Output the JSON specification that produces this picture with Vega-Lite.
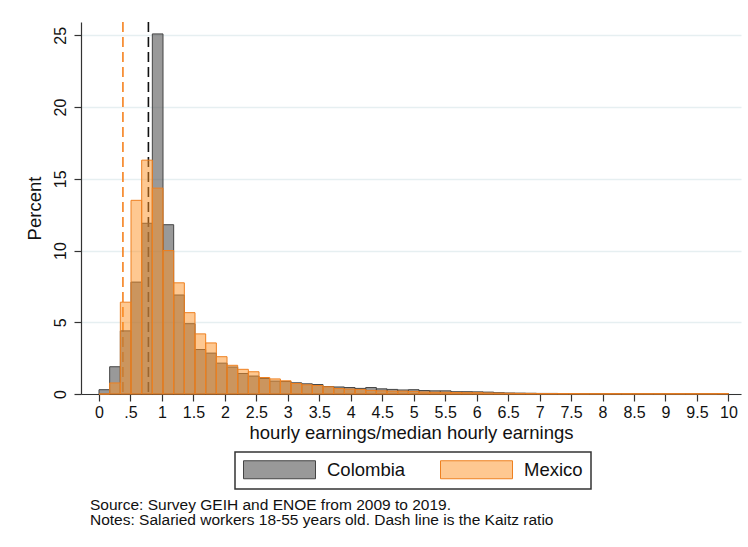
{
  "$schema": "https://vega.github.io/schema/vega-lite/v6.json",
  "width": 660,
  "height": 372,
  "autosize": "none",
  "padding": {"left": 81, "top": 22, "right": 7, "bottom": 153},
  "background": "#ffffff",
  "title": {
    "text": ["Source: Survey GEIH and ENOE from 2009 to 2019.", "Notes: Salaried workers 18-55 years old. Dash line is the Kaitz ratio"],
    "orient": "bottom",
    "anchor": "start",
    "frame": "group",
    "font": "Liberation Sans",
    "fontSize": 15.5,
    "fontWeight": "normal",
    "lineHeight": 15.5,
    "color": "#111111",
    "dx": 9,
    "offset": 8
  },
  "datasets": {
    "kaitz": [
      {"country": "Colombia", "kaitz": 0.785},
      {"country": "Mexico", "kaitz": 0.38}
    ],
    "bins": [
      {"country":"Colombia","lo":0,"hi":0.1695,"pct":0.3},
      {"country":"Colombia","lo":0.1695,"hi":0.3390,"pct":1.9},
      {"country":"Colombia","lo":0.3390,"hi":0.5085,"pct":4.4},
      {"country":"Colombia","lo":0.5085,"hi":0.6780,"pct":7.8},
      {"country":"Colombia","lo":0.6780,"hi":0.8475,"pct":11.9},
      {"country":"Colombia","lo":0.8475,"hi":1.0169,"pct":25.1},
      {"country":"Colombia","lo":1.0169,"hi":1.1864,"pct":11.8},
      {"country":"Colombia","lo":1.1864,"hi":1.3559,"pct":6.9},
      {"country":"Colombia","lo":1.3559,"hi":1.5254,"pct":4.9},
      {"country":"Colombia","lo":1.5254,"hi":1.6949,"pct":3.1},
      {"country":"Colombia","lo":1.6949,"hi":1.8644,"pct":2.85},
      {"country":"Colombia","lo":1.8644,"hi":2.0339,"pct":2.15},
      {"country":"Colombia","lo":2.0339,"hi":2.2034,"pct":1.88},
      {"country":"Colombia","lo":2.2034,"hi":2.3729,"pct":1.43},
      {"country":"Colombia","lo":2.3729,"hi":2.5424,"pct":1.25},
      {"country":"Colombia","lo":2.5424,"hi":2.7119,"pct":1.08},
      {"country":"Colombia","lo":2.7119,"hi":2.8814,"pct":0.9},
      {"country":"Colombia","lo":2.8814,"hi":3.0508,"pct":0.87},
      {"country":"Colombia","lo":3.0508,"hi":3.2203,"pct":0.78},
      {"country":"Colombia","lo":3.2203,"hi":3.3898,"pct":0.71},
      {"country":"Colombia","lo":3.3898,"hi":3.5593,"pct":0.66},
      {"country":"Colombia","lo":3.5593,"hi":3.7288,"pct":0.52},
      {"country":"Colombia","lo":3.7288,"hi":3.8983,"pct":0.49},
      {"country":"Colombia","lo":3.8983,"hi":4.0678,"pct":0.45},
      {"country":"Colombia","lo":4.0678,"hi":4.2373,"pct":0.39},
      {"country":"Colombia","lo":4.2373,"hi":4.4068,"pct":0.45},
      {"country":"Colombia","lo":4.4068,"hi":4.5763,"pct":0.36},
      {"country":"Colombia","lo":4.5763,"hi":4.7458,"pct":0.32},
      {"country":"Colombia","lo":4.7458,"hi":4.9153,"pct":0.28},
      {"country":"Colombia","lo":4.9153,"hi":5.0847,"pct":0.3},
      {"country":"Colombia","lo":5.0847,"hi":5.2542,"pct":0.24},
      {"country":"Colombia","lo":5.2542,"hi":5.4237,"pct":0.22},
      {"country":"Colombia","lo":5.4237,"hi":5.5932,"pct":0.22},
      {"country":"Colombia","lo":5.5932,"hi":5.7627,"pct":0.16},
      {"country":"Colombia","lo":5.7627,"hi":5.9322,"pct":0.16},
      {"country":"Colombia","lo":5.9322,"hi":6.1017,"pct":0.15},
      {"country":"Colombia","lo":6.1017,"hi":6.2712,"pct":0.13},
      {"country":"Colombia","lo":6.2712,"hi":6.4407,"pct":0.09},
      {"country":"Colombia","lo":6.4407,"hi":6.6102,"pct":0.07},
      {"country":"Colombia","lo":6.6102,"hi":6.7797,"pct":0.06},
      {"country":"Colombia","lo":6.7797,"hi":6.9492,"pct":0.05},
      {"country":"Colombia","lo":6.9492,"hi":7.1186,"pct":0.04},
      {"country":"Colombia","lo":7.1186,"hi":7.2881,"pct":0.04},
      {"country":"Colombia","lo":7.2881,"hi":7.4576,"pct":0.03},
      {"country":"Colombia","lo":7.4576,"hi":7.6271,"pct":0.03},
      {"country":"Colombia","lo":7.6271,"hi":7.7966,"pct":0.03},
      {"country":"Colombia","lo":7.7966,"hi":7.9661,"pct":0.03},
      {"country":"Colombia","lo":7.9661,"hi":8.1356,"pct":0.02},
      {"country":"Colombia","lo":8.1356,"hi":8.3051,"pct":0.03},
      {"country":"Colombia","lo":8.3051,"hi":8.4746,"pct":0.02},
      {"country":"Colombia","lo":8.4746,"hi":8.6441,"pct":0.02},
      {"country":"Colombia","lo":8.6441,"hi":8.8136,"pct":0.02},
      {"country":"Colombia","lo":8.8136,"hi":8.9831,"pct":0.02},
      {"country":"Colombia","lo":8.9831,"hi":9.1525,"pct":0.02},
      {"country":"Colombia","lo":9.1525,"hi":9.3220,"pct":0.02},
      {"country":"Colombia","lo":9.3220,"hi":9.4915,"pct":0.03},
      {"country":"Colombia","lo":9.4915,"hi":9.6610,"pct":0.02},
      {"country":"Colombia","lo":9.6610,"hi":9.8305,"pct":0.02},
      {"country":"Colombia","lo":9.8305,"hi":10,"pct":0.03},
      {"country":"Mexico","lo":0,"hi":0.1695,"pct":0},
      {"country":"Mexico","lo":0.1695,"hi":0.3390,"pct":0.77},
      {"country":"Mexico","lo":0.3390,"hi":0.5085,"pct":6.4},
      {"country":"Mexico","lo":0.5085,"hi":0.6780,"pct":13.5},
      {"country":"Mexico","lo":0.6780,"hi":0.8475,"pct":16.3},
      {"country":"Mexico","lo":0.8475,"hi":1.0169,"pct":14.35},
      {"country":"Mexico","lo":1.0169,"hi":1.1864,"pct":10.0},
      {"country":"Mexico","lo":1.1864,"hi":1.3559,"pct":7.75},
      {"country":"Mexico","lo":1.3559,"hi":1.5254,"pct":5.67},
      {"country":"Mexico","lo":1.5254,"hi":1.6949,"pct":4.19},
      {"country":"Mexico","lo":1.6949,"hi":1.8644,"pct":3.56},
      {"country":"Mexico","lo":1.8644,"hi":2.0339,"pct":2.6},
      {"country":"Mexico","lo":2.0339,"hi":2.2034,"pct":2.0},
      {"country":"Mexico","lo":2.2034,"hi":2.3729,"pct":1.72},
      {"country":"Mexico","lo":2.3729,"hi":2.5424,"pct":1.55},
      {"country":"Mexico","lo":2.5424,"hi":2.7119,"pct":1.15},
      {"country":"Mexico","lo":2.7119,"hi":2.8814,"pct":1.05},
      {"country":"Mexico","lo":2.8814,"hi":3.0508,"pct":0.92},
      {"country":"Mexico","lo":3.0508,"hi":3.2203,"pct":0.73},
      {"country":"Mexico","lo":3.2203,"hi":3.3898,"pct":0.64},
      {"country":"Mexico","lo":3.3898,"hi":3.5593,"pct":0.59},
      {"country":"Mexico","lo":3.5593,"hi":3.7288,"pct":0.5},
      {"country":"Mexico","lo":3.7288,"hi":3.8983,"pct":0.38},
      {"country":"Mexico","lo":3.8983,"hi":4.0678,"pct":0.34},
      {"country":"Mexico","lo":4.0678,"hi":4.2373,"pct":0.32},
      {"country":"Mexico","lo":4.2373,"hi":4.4068,"pct":0.25},
      {"country":"Mexico","lo":4.4068,"hi":4.5763,"pct":0.22},
      {"country":"Mexico","lo":4.5763,"hi":4.7458,"pct":0.2},
      {"country":"Mexico","lo":4.7458,"hi":4.9153,"pct":0.2},
      {"country":"Mexico","lo":4.9153,"hi":5.0847,"pct":0.18},
      {"country":"Mexico","lo":5.0847,"hi":5.2542,"pct":0.14},
      {"country":"Mexico","lo":5.2542,"hi":5.4237,"pct":0.12},
      {"country":"Mexico","lo":5.4237,"hi":5.5932,"pct":0.12},
      {"country":"Mexico","lo":5.5932,"hi":5.7627,"pct":0.1},
      {"country":"Mexico","lo":5.7627,"hi":5.9322,"pct":0.09},
      {"country":"Mexico","lo":5.9322,"hi":6.1017,"pct":0.09},
      {"country":"Mexico","lo":6.1017,"hi":6.2712,"pct":0.07},
      {"country":"Mexico","lo":6.2712,"hi":6.4407,"pct":0.06},
      {"country":"Mexico","lo":6.4407,"hi":6.6102,"pct":0.05},
      {"country":"Mexico","lo":6.6102,"hi":6.7797,"pct":0.04},
      {"country":"Mexico","lo":6.7797,"hi":6.9492,"pct":0.04},
      {"country":"Mexico","lo":6.9492,"hi":7.1186,"pct":0.03},
      {"country":"Mexico","lo":7.1186,"hi":7.2881,"pct":0.03},
      {"country":"Mexico","lo":7.2881,"hi":7.4576,"pct":0.03},
      {"country":"Mexico","lo":7.4576,"hi":7.6271,"pct":0.03},
      {"country":"Mexico","lo":7.6271,"hi":7.7966,"pct":0.02},
      {"country":"Mexico","lo":7.7966,"hi":7.9661,"pct":0.02},
      {"country":"Mexico","lo":7.9661,"hi":8.1356,"pct":0.02},
      {"country":"Mexico","lo":8.1356,"hi":8.3051,"pct":0.02},
      {"country":"Mexico","lo":8.3051,"hi":8.4746,"pct":0.02},
      {"country":"Mexico","lo":8.4746,"hi":8.6441,"pct":0.02},
      {"country":"Mexico","lo":8.6441,"hi":8.8136,"pct":0.02},
      {"country":"Mexico","lo":8.8136,"hi":8.9831,"pct":0.02},
      {"country":"Mexico","lo":8.9831,"hi":9.1525,"pct":0.02},
      {"country":"Mexico","lo":9.1525,"hi":9.3220,"pct":0.02},
      {"country":"Mexico","lo":9.3220,"hi":9.4915,"pct":0.02},
      {"country":"Mexico","lo":9.4915,"hi":9.6610,"pct":0.02},
      {"country":"Mexico","lo":9.6610,"hi":9.8305,"pct":0.02},
      {"country":"Mexico","lo":9.8305,"hi":10,"pct":0.03}
    ]
  },
  "layer": [
    {
      "data": {"name": "kaitz"},
      "transform": [{"filter": "datum.country == 'Colombia'"}],
      "mark": {"type": "rule", "color": "#111111", "strokeWidth": 1.6, "strokeDash": [10, 5]},
      "encoding": {
        "x": {
          "field": "kaitz", "type": "quantitative",
          "title": "hourly earnings/median hourly earnings",
          "scale": {"domain": [-0.286, 10.2], "nice": false, "zero": false},
          "axis": {
            "values": [0,0.5,1,1.5,2,2.5,3,3.5,4,4.5,5,5.5,6,6.5,7,7.5,8,8.5,9,9.5,10],
            "labelExpr": "datum.value == 0.5 ? '.5' : format(datum.value, '~g')"
          }
        }
      }
    },
    {
      "data": {"name": "kaitz"},
      "transform": [{"filter": "datum.country == 'Mexico'"}],
      "mark": {"type": "rule", "color": "#F5821F", "strokeWidth": 1.6, "strokeDash": [10, 5]},
      "encoding": {
        "x": {
          "field": "kaitz", "type": "quantitative",
          "title": "hourly earnings/median hourly earnings",
          "scale": {"domain": [-0.286, 10.2], "nice": false, "zero": false},
          "axis": {
            "values": [0,0.5,1,1.5,2,2.5,3,3.5,4,4.5,5,5.5,6,6.5,7,7.5,8,8.5,9,9.5,10],
            "labelExpr": "datum.value == 0.5 ? '.5' : format(datum.value, '~g')"
          }
        }
      }
    },
    {
      "data": {"name": "bins"},
      "mark": {"type": "bar", "strokeWidth": 1},
      "encoding": {
        "x": {
          "field": "lo", "type": "quantitative",
          "title": "hourly earnings/median hourly earnings",
          "scale": {"domain": [-0.286, 10.2], "nice": false, "zero": false},
          "axis": {
            "values": [0,0.5,1,1.5,2,2.5,3,3.5,4,4.5,5,5.5,6,6.5,7,7.5,8,8.5,9,9.5,10],
            "labelExpr": "datum.value == 0.5 ? '.5' : format(datum.value, '~g')"
          }
        },
        "x2": {"field": "hi"},
        "y": {
          "field": "pct", "type": "quantitative", "stack": null,
          "title": "Percent",
          "scale": {"domain": [0, 25.93], "nice": false},
          "axis": {"values": [0,5,10,15,20,25], "format": "d"}
        },
        "y2": {"datum": 0},
        "fill": {
          "field": "country", "type": "nominal",
          "scale": {"domain": ["Colombia", "Mexico"], "range": ["#555555", "#FD9123"]},
          "legend": {
            "orient": "none", "legendX": 154, "legendY": 430,
            "direction": "horizontal", "title": null,
            "encode": {
              "symbols": {
                "update": {
                  "fillOpacity": {"signal": "datum.value == 'Colombia' ? 0.6 : 0.5"}
                }
              }
            }
          }
        },
        "stroke": {
          "field": "country", "type": "nominal",
          "scale": {"domain": ["Colombia", "Mexico"], "range": ["#444444", "#EE8020"]}
        },
        "fillOpacity": {
          "field": "country", "type": "nominal",
          "scale": {"domain": ["Colombia", "Mexico"], "range": [0.6, 0.5]},
          "legend": null
        }
      }
    }
  ],
  "config": {
    "view": {"stroke": null},
    "font": "Liberation Sans",
    "axis": {
      "labelFont": "Liberation Sans",
      "titleFont": "Liberation Sans",
      "labelColor": "#111111",
      "titleColor": "#111111",
      "labelFontSize": 16,
      "titleFontSize": 18.5,
      "titleFontWeight": "normal",
      "domainColor": "#333333",
      "domainWidth": 1.2,
      "tickColor": "#333333",
      "tickWidth": 1.2,
      "tickSize": 7
    },
    "axisX": {"grid": false, "labelPadding": 3, "titlePadding": 3, "labelFlush": false},
    "axisY": {
      "grid": true, "gridColor": "#E6EFF1", "gridWidth": 1.3,
      "labelAngle": -90, "labelAlign": "center", "labelBaseline": "bottom",
      "labelPadding": 6, "titlePadding": 8
    },
    "legend": {
      "padding": 8,
      "strokeColor": "#333333",
      "strokeWidth": 1.5,
      "fillColor": "#ffffff",
      "symbolType": "M-1,-1H7V1H-1Z",
      "symbolSize": 324,
      "symbolStrokeWidth": 1,
      "labelOffset": 65,
      "labelFont": "Liberation Sans",
      "labelFontSize": 18.5,
      "labelColor": "#111111",
      "columnPadding": 32
    }
  }
}
